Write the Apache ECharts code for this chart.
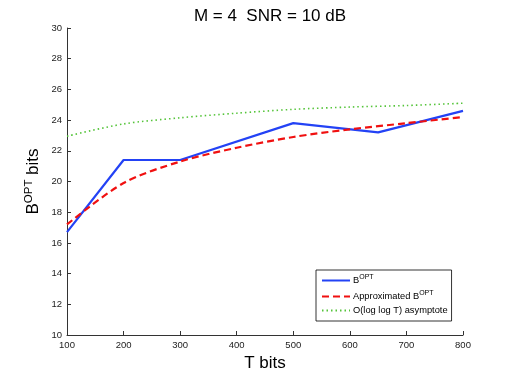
<!DOCTYPE html>
<html>
<head>
<meta charset="utf-8">
<script src="https://cdn.jsdelivr.net/npm/echarts@6/dist/echarts.min.js"></script>
<style>
html, body { margin: 0; padding: 0; background: #fff; }
#main { width: 512px; height: 377px; }
</style>
</head>
<body>
<div id="main"></div>
<script>
var tBlue = [100, 200, 300, 500, 650, 800];
var bOpt = [16.7, 21.4, 21.4, 23.8, 23.2, 24.6];

var tCurve = [100, 200, 300, 400, 500, 600, 700, 800];
var bApprox = [17.2, 19.9, 21.3, 22.2, 22.9, 23.4, 23.8, 24.2];
var bAsym = [22.95, 23.75, 24.15, 24.45, 24.7, 24.85, 24.95, 25.1];

var names = ['B{s|OPT}', 'Approximated B{s|OPT}', 'O(log log T) asymptote'];
var keys = ['opt', 'approx', 'asym'];

function pairs(xs, ys) {
    var out = [];
    for (var i = 0; i < xs.length; i++) out.push([xs[i], ys[i]]);
    return out;
}

var font = 'Liberation Sans, Arial, sans-serif';
var supRich = {
    s: { fontSize: 7, verticalAlign: 'top', padding: [0, 0, 6, 0], fontFamily: font, color: '#000' }
};

var option = {
    animation: false,
    backgroundColor: '#fff',
    title: {
        text: 'M = 4  SNR = 10 dB',
        left: 265, top: 3, textAlign: 'center',
        textStyle: { fontSize: 17, fontWeight: 'normal', color: '#000', fontFamily: font }
    },
    grid: { left: 67, right: 49, top: 28, bottom: 42 },
    legend: {
        orient: 'vertical',
        left: 316, top: 270,
        padding: [4, 4, 6, 5],
        itemGap: 5,
        itemWidth: 28, itemHeight: 11,
        borderColor: '#000', borderWidth: 0.8, borderRadius: 0,
        backgroundColor: '#fff',
        itemStyle: { opacity: 0 },
        data: keys,
        formatter: function (n) { return names[keys.indexOf(n)]; },
        textStyle: { fontSize: 9.3, color: '#000', fontFamily: font, padding: [0, 0, 0, -2], rich: supRich }
    },
    xAxis: {
        type: 'value', min: 100, max: 800, interval: 100,
        name: 'T bits', nameLocation: 'middle', nameGap: 15,
        nameTextStyle: { fontSize: 17, color: '#000', fontFamily: font },
        axisLine: { lineStyle: { color: '#333', width: 1 } },
        axisTick: { inside: true, length: 4, lineStyle: { color: '#333' } },
        axisLabel: { fontSize: 9.5, color: '#222', margin: 5, fontFamily: font },
        splitLine: { show: false }
    },
    yAxis: {
        type: 'value', min: 10, max: 30, interval: 2,
        name: 'B{s|OPT} bits', nameLocation: 'middle', nameGap: 24, nameRotate: 90,
        nameMoveOverlap: false,
        nameTextStyle: { fontSize: 17, color: '#000', fontFamily: font,
            rich: { s: { fontSize: 11.5, verticalAlign: 'top', padding: [0, 0, 8, 0], color: '#000', fontFamily: font } } },
        axisLine: { show: true, lineStyle: { color: '#333', width: 1 } },
        axisTick: { show: true, inside: true, length: 4, lineStyle: { color: '#333' } },
        axisLabel: { fontSize: 9.5, color: '#222', margin: 5, fontFamily: font },
        splitLine: { show: false }
    },
    series: [
        {
            name: 'opt', type: 'line', data: pairs(tBlue, bOpt),
            symbol: 'none', color: '#2342f5',
            lineStyle: { width: 2.2, color: '#2342f5' }
        },
        {
            name: 'approx', type: 'line', data: pairs(tCurve, bApprox),
            symbol: 'none', smooth: 0.3, color: '#f01010',
            lineStyle: { width: 2.2, type: [7, 4], color: '#f01010' }
        },
        {
            name: 'asym', type: 'line', data: pairs(tCurve, bAsym),
            symbol: 'none', smooth: 0.3, color: '#55c43a',
            lineStyle: { width: 1.6, type: [1.5, 3], color: '#55c43a' }
        }
    ]
};

var myChart = echarts.init(document.getElementById('main'), null, { renderer: 'canvas' });
myChart.setOption(option);
</script>
</body>
</html>
